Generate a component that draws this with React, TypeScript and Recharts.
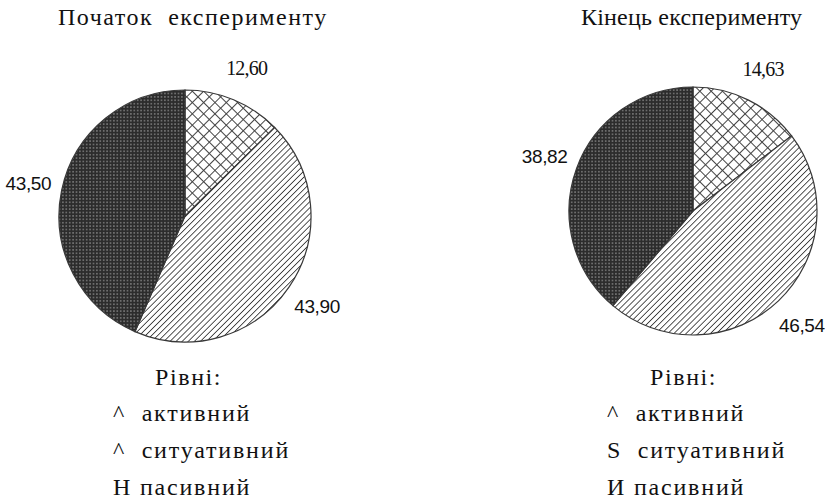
import { PieChart, Pie, Cell } from "recharts";

const levels = ["активний", "ситуативний", "пасивний"];
const startValues = [12.6, 43.9, 43.5];
const endValues = [14.63, 46.54, 38.82];
const startMarks = ["^", "^", "Н"];
const endMarks = ["^", "S", "И"];

const patternIds = ["hatch-cross", "hatch-diag", "hatch-dots"];

const startData = levels.map((name, i) => ({ name, value: startValues[i] }));
const endData = levels.map((name, i) => ({ name, value: endValues[i] }));

const SERIF = "Liberation Serif";
const SANS = "Liberation Sans";
const RAD = Math.PI / 180;

const renderLabel = (props: any) => {
  const { cx, cy, midAngle, outerRadius, value, index } = props;
  const r = outerRadius + 34;
  const x = cx + r * Math.cos(-midAngle * RAD);
  const y = cy + r * Math.sin(-midAngle * RAD);
  const serif = index === 0;
  return (
    <text
      x={x}
      y={y}
      textAnchor="middle"
      dominantBaseline="central"
      fill="#111"
      style={{
        fontFamily: serif ? SERIF : SANS,
        fontSize: serif ? 20 : 19,
        letterSpacing: serif ? -0.8 : -0.4,
      }}
    >
      {value.toFixed(2).replace(".", ",")}
    </text>
  );
};

const Patterns = () => (
  <svg width={0} height={0} style={{ position: "absolute" }}>
    <defs>
      <pattern
        id="hatch-cross"
        width={8}
        height={8}
        patternUnits="userSpaceOnUse"
        patternTransform="rotate(45)"
      >
        <rect width={8} height={8} fill="#fff" />
        <path d="M0 0 H8 M0 0 V8" stroke="#444" strokeWidth={2} />
      </pattern>
      <pattern
        id="hatch-diag"
        width={4.3}
        height={4.3}
        patternUnits="userSpaceOnUse"
        patternTransform="rotate(-45)"
      >
        <rect width={4.3} height={4.3} fill="#fff" />
        <path d="M0 0 H4.3" stroke="#3a3a3a" strokeWidth={1.7} />
      </pattern>
      <pattern id="hatch-dots" width={3.4} height={3.4} patternUnits="userSpaceOnUse">
        <rect width={3.4} height={3.4} fill="#2c2c2c" />
        <circle cx={1.7} cy={1.7} r={0.8} fill="#8a8a8a" />
      </pattern>
    </defs>
  </svg>
);

type PanelProps = {
  title: string;
  data: { name: string; value: number }[];
  marks: string[];
  left: number;
  cx: number;
  cy: number;
  radius: number;
  titleX: number;
  legendX: number;
  headX: number;
  titleSpacing: number;
};

const textStyle = {
  position: "absolute" as const,
  fontFamily: SERIF,
  fontSize: 24,
  lineHeight: "28px",
  whiteSpace: "pre" as const,
  color: "#111",
};

const Panel = ({
  title,
  data,
  marks,
  left,
  cx,
  cy,
  radius,
  titleX,
  legendX,
  headX,
  titleSpacing,
}: PanelProps) => (
  <div style={{ position: "absolute", left, top: 0, width: 418, height: 503 }}>
    <div style={{ ...textStyle, left: titleX, top: 3, letterSpacing: titleSpacing }}>
      {title}
    </div>
    <PieChart width={418} height={503} style={{ position: "absolute", left: 0, top: 0 }}>
      <Pie
        data={data}
        dataKey="value"
        cx={cx}
        cy={cy}
        outerRadius={radius}
        startAngle={90}
        endAngle={-270}
        stroke="#383838"
        strokeWidth={1.2}
        label={renderLabel}
        labelLine={false}
        isAnimationActive={false}
      >
        {data.map((d, i) => (
          <Cell key={d.name} fill={`url(#${patternIds[i]})`} />
        ))}
      </Pie>
    </PieChart>
    <div style={{ ...textStyle, left: headX, top: 363, letterSpacing: 1.6 }}>Рівні:</div>
    {data.map((d, i) => (
      <div
        key={d.name}
        style={{ ...textStyle, left: legendX, top: 399 + i * 37, letterSpacing: 1.8 }}
      >
        {marks[i] === "^" || marks[i] === "S" ? `${marks[i]}  ${d.name}` : `${marks[i]} ${d.name}`}
      </div>
    ))}
  </div>
);

export default function App() {
  return (
    <div
      style={{
        position: "absolute",
        left: 0,
        top: 0,
        width: 835,
        height: 503,
        background: "#fff",
        overflow: "hidden",
      }}
    >
      <Patterns />
      <Panel
        title="Початок  експерименту"
        data={startData}
        marks={startMarks}
        left={0}
        cx={180}
        cy={211}
        radius={126}
        titleX={58}
        legendX={113}
        headX={155}
        titleSpacing={1.5}
      />
      <Panel
        title="Кінець експерименту"
        data={endData}
        marks={endMarks}
        left={417}
        cx={271}
        cy={206}
        radius={124}
        titleX={164}
        legendX={190}
        headX={233}
        titleSpacing={0.2}
      />
    </div>
  );
}
